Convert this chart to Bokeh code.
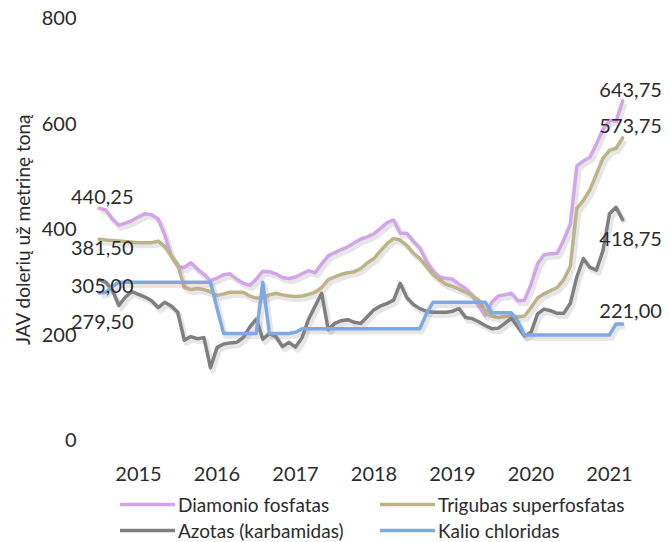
import math
from bokeh.plotting import figure
from bokeh.models import (ColumnDataSource, FixedTicker, Range1d, Legend,
                          LegendItem, LabelSet, Label)
from bokeh.core.properties import value
from bokeh.transform import dodge
from bokeh.embed import file_html
from bokeh.resources import INLINE

# ---- data (monthly, Jul 2014 .. Mar 2021), USD per metric tonne ----
start_year, start_month = 2014, 7
year_ticks = [2015, 2016, 2017, 2018, 2019, 2020, 2021]
y_ticks = [0, 200, 400, 600, 800]
y_title = "JAV dolerių už metrinę toną"

names = ["Diamonio fosfatas", "Trigubas superfosfatas",
         "Azotas (karbamidas)", "Kalio chloridas"]

diamonio = [440.25, 437, 420, 408, 412, 417,
            424, 430, 428, 420, 390, 350, 330, 328, 337, 325, 315, 303,
            308, 314, 316, 306, 298, 294, 306, 321, 320, 316, 309, 307,
            310, 316, 322, 318, 335, 350, 356, 362, 367, 375, 382, 386,
            392, 402, 413, 418, 393, 393, 378, 365, 340, 322, 310, 307,
            306, 296, 288, 276, 255, 237, 262, 274, 276, 279, 265, 266,
            296, 335, 352, 354, 355, 380, 410, 520, 530, 537, 562, 590,
            607, 605, 643.75]

trigubas = [381.5, 380, 379, 378, 377, 376,
            375, 375, 375, 378, 368, 350, 333, 290, 286, 288, 286, 282,
            275, 278, 281, 281, 281, 274, 270, 270, 276, 279, 276, 274,
            273, 274, 277, 281, 290, 305, 310, 315, 318, 320, 326, 337,
            345, 360, 373, 383, 380, 370, 355, 345, 330, 315, 305, 296,
            292, 287, 281, 275, 266, 245, 236, 233, 235, 237, 234, 236,
            252, 270, 278, 284, 290, 305, 330, 440, 455, 475, 505, 535,
            550, 554, 573.75]

azotas = [305, 300, 285, 256, 272, 282,
          277, 272, 265, 252, 262, 255, 243, 190, 197, 193, 195, 138,
          176, 183, 185, 186, 195, 215, 230, 192, 203, 197, 178, 186,
          177, 195, 230, 255, 279, 210, 222, 227, 229, 224, 222, 235,
          248, 255, 260, 266, 298, 271, 258, 250, 245, 243, 243, 243,
          245, 250, 233, 231, 225, 218, 212, 213, 222, 232, 215, 198,
          205, 240, 249, 246, 241, 241, 260, 310, 345, 328, 323, 360,
          430, 442, 418.75]

kalio = [279.5, 281, 292, 300, 300, 300,
         300, 300, 300, 300, 300, 300, 300, 300, 300, 300, 300, 300,
         251, 203, 203, 203, 203, 203, 203, 300, 203, 203, 203, 203,
         205, 212, 212, 212, 212, 212, 212, 212, 212, 212, 212, 212,
         212, 212, 212, 212, 212, 212, 212, 212, 240, 262, 262, 262,
         262, 262, 262, 262, 262, 262, 242, 242, 242, 242, 225, 200,
         200, 200, 200, 200, 200, 200, 200, 200, 200, 200, 200, 200,
         200, 221, 221]

series = [diamonio, trigubas, azotas, kalio]
colors = ["#D3A5E8", "#BDB388", "#7F7F7F", "#7EA9E4"]

n = len(diamonio)
x = [start_year + (start_month - 1 + i) / 12 for i in range(n)]

FONT = "Lato"
TXT = "#2b2b2b"

# frame fills the whole figure; axes are drawn at fixed locations inside it
p = figure(width=670, height=542, output_backend="svg", toolbar_location=None,
           x_range=Range1d(2013.242, 2021.777), y_range=Range1d(-193.4, 834.1),
           min_border=0)
p.title.visible = False
p.outline_line_color = None
p.grid.visible = False
p.background_fill_color = "white"
p.border_fill_color = "white"

renderers = []
for vals, c in zip(series, colors):
    src = ColumnDataSource(dict(x=x, y=vals))
    p.line(dodge("x", 0.03, range=p.x_range), dodge("y", -6, range=p.y_range),
           source=src, line_color="#8c8c8c", line_alpha=0.22, line_width=5,
           line_join="round")
    r = p.line("x", "y", source=src, line_color=c, line_width=3.5,
               line_join="round", line_cap="round")
    renderers.append(r)

# axes
for ax in (p.xaxis[0], p.yaxis[0]):
    ax.axis_line_color = None
    ax.major_tick_line_color = None
    ax.minor_tick_line_color = None
    ax.major_tick_out = 0
    ax.major_tick_in = 0
    ax.major_label_text_font = FONT
    ax.major_label_text_font_size = "20px"
    ax.major_label_text_color = TXT

p.xaxis.ticker = FixedTicker(ticks=year_ticks)
p.xaxis.fixed_location = 0
p.xaxis.major_label_standoff = 27
p.yaxis.ticker = FixedTicker(ticks=y_ticks)
p.yaxis.fixed_location = 2014.414
p.yaxis.major_label_standoff = 16

# y-axis title, centred on the 0..800 value span
p.add_layout(Label(x=22, x_units="screen",
                   y=(y_ticks[0] + y_ticks[-1]) / 2, y_units="data",
                   text=y_title, angle=math.pi / 2,
                   text_align="center", text_baseline="middle",
                   text_font=FONT, text_font_size="19px", text_color=TXT))

# data labels at first and last values
def fmt(v):
    return f"{v:.2f}".replace(".", ",")

first_dx = [3, 3, 3, 3]
first_dy = [-11, 9, 6, 29]
last_dx = [8, 8, 8, 8]
last_dy = [-11, -12, 19, -13]
lab = ColumnDataSource(dict(
    x=[x[0]] * 4 + [x[-1]] * 4,
    y=[s[0] for s in series] + [s[-1] for s in series],
    t=[fmt(s[0]) for s in series] + [fmt(s[-1]) for s in series],
    dx=first_dx + last_dx,
    dy=[-d for d in first_dy] + [-d for d in last_dy],
))
p.add_layout(LabelSet(x="x", y="y", text="t", source=lab,
                      x_offset="dx", y_offset="dy",
                      text_align="center", text_baseline="middle",
                      text_font=value(FONT), text_font_size=value("20px"),
                      text_color=TXT))

# legends (two columns)
def make_legend(items, loc):
    return Legend(items=items, location=loc, orientation="vertical",
                  label_text_font=FONT, label_text_font_size="19px",
                  label_text_color=TXT, glyph_width=55, glyph_height=26,
                  label_height=26, label_standoff=3, spacing=0, padding=0,
                  margin=0, background_fill_alpha=0, border_line_color=None)

leg1 = make_legend([LegendItem(label=names[0], renderers=[renderers[0]]),
                    LegendItem(label=names[2], renderers=[renderers[2]])],
                   (120, -1))
leg2 = make_legend([LegendItem(label=names[1], renderers=[renderers[1]]),
                    LegendItem(label=names[3], renderers=[renderers[3]])],
                   (380, -1))
p.add_layout(leg1)
p.add_layout(leg2)

open("out.html", "w").write(file_html(p, INLINE))
